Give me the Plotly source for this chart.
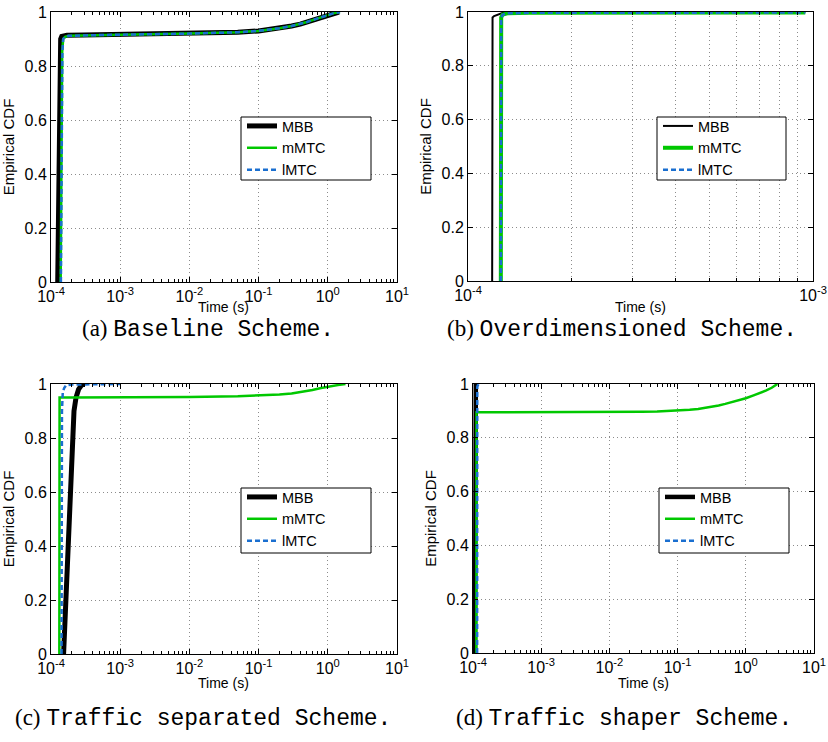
import plotly.graph_objects as go

W, H = 828, 742

series_names = ["MBB", "mMTC", "lMTC"]
colors = {"MBB": "#000000", "mMTC": "#00c800", "lMTC": "#1a6fd0"}

# ---------------- data ----------------
# (a) Baseline
a_mbb_x = [1.25e-4, 1.27e-4, 1.30e-4, 1.34e-4, 1.38e-4, 1.43e-4, 1.5e-4, 1.7e-4, 3e-4, 1e-3, 1e-2, 2e-2, 5e-2, 1e-1, 1.5e-1, 2e-1, 3e-1, 4e-1, 5e-1, 6e-1, 7e-1, 8e-1, 1.0, 1.2, 1.45]
a_mbb_y = [0, 0.2, 0.5, 0.8, 0.9, 0.91, 0.912, 0.914, 0.915, 0.917, 0.92, 0.922, 0.925, 0.93, 0.935, 0.94, 0.948, 0.955, 0.963, 0.97, 0.976, 0.982, 0.99, 0.995, 1.0]
a_mmtc_x = [1.38e-4, 1.4e-4, 1.42e-4, 1.45e-4, 1.5e-4, 1.6e-4, 1.8e-4, 3e-4, 1e-3, 1e-2, 2e-2, 5e-2, 1e-1, 1.5e-1, 2e-1, 3e-1, 4e-1, 5e-1, 6e-1, 7e-1, 8e-1, 1.0, 1.2, 1.5]
a_mmtc_y = [0, 0.3, 0.6, 0.85, 0.9, 0.908, 0.912, 0.914, 0.916, 0.92, 0.922, 0.925, 0.93, 0.935, 0.94, 0.948, 0.955, 0.963, 0.97, 0.976, 0.982, 0.99, 0.995, 1.0]
a_lmtc_x = [1.39e-4, 1.41e-4, 1.43e-4, 1.46e-4, 1.5e-4, 1.6e-4, 1.8e-4, 3e-4, 1e-3, 1e-2, 2e-2, 5e-2, 1e-1, 1.5e-1, 2e-1, 3e-1, 4e-1, 5e-1, 6e-1, 7e-1, 8e-1, 1.0, 1.2, 1.5]
a_lmtc_y = [0, 0.3, 0.6, 0.85, 0.9, 0.908, 0.912, 0.914, 0.916, 0.92, 0.922, 0.925, 0.93, 0.935, 0.94, 0.948, 0.955, 0.963, 0.97, 0.976, 0.982, 0.99, 0.995, 1.0]

# (b) Overdimensioned
b_mbb_x = [1.175e-4, 1.178e-4, 1.19e-4, 1.21e-4, 1.24e-4, 1.28e-4, 9.5e-4]
b_mbb_y = [0, 0.98, 0.985, 0.988, 0.995, 1.0, 1.0]
b_mmtc_x = [1.245e-4, 1.248e-4, 1.26e-4, 1.3e-4, 1.5e-4, 9.5e-4]
b_mmtc_y = [0, 0.98, 0.99, 0.995, 0.997, 0.998]
b_lmtc_x = [1.245e-4, 1.248e-4, 1.26e-4, 1.3e-4, 1.5e-4, 9.5e-4]
b_lmtc_y = [0, 0.98, 0.99, 0.995, 0.997, 0.998]

# (c) Traffic separated
c_mbb_x = [1.52e-4, 1.58e-4, 1.65e-4, 1.73e-4, 1.82e-4, 1.93e-4, 2.05e-4, 2.15e-4, 2.3e-4, 2.5e-4, 2.75e-4, 3.0e-4]
c_mbb_y = [0, 0.1, 0.2, 0.35, 0.5, 0.65, 0.8, 0.9, 0.95, 0.98, 0.995, 1.0]
c_mmtc_x = [1.32e-4, 1.33e-4, 2e-4, 1e-3, 1e-2, 5e-2, 1e-1, 2e-1, 3e-1, 4e-1, 6e-1, 8e-1, 1.0, 1.2, 1.4, 1.8]
c_mmtc_y = [0, 0.95, 0.95, 0.95, 0.952, 0.955, 0.957, 0.961, 0.965, 0.97, 0.978, 0.985, 0.99, 0.993, 0.996, 1.0]
c_lmtc_x = [1.42e-4, 1.44e-4, 1.48e-4, 1.55e-4, 1.65e-4, 2e-4, 1e-3]
c_lmtc_y = [0, 0.9, 0.97, 0.985, 0.995, 0.998, 1.0]

# (d) Traffic shaper
d_mbb_x = [1.07e-4, 1.075e-4, 1.1e-4, 1.15e-4]
d_mbb_y = [0, 0.995, 1.0, 1.0]
d_mmtc_x = [1.12e-4, 1.125e-4, 1.3e-4, 1e-3, 1e-2, 3e-2, 5e-2, 1e-1, 1.5e-1, 2e-1, 3e-1, 4e-1, 5e-1, 7e-1, 1.0, 1.3, 1.7, 2.0, 2.4, 2.9]
d_mmtc_y = [0, 0.895, 0.895, 0.895, 0.896, 0.897, 0.898, 0.901, 0.904, 0.907, 0.914, 0.92, 0.926, 0.936, 0.947, 0.958, 0.968, 0.976, 0.986, 1.0]
d_lmtc_x = [1.15e-4, 1.155e-4, 1.2e-4, 1.3e-4]
d_lmtc_y = [0, 0.99, 1.0, 1.0]

captions = ["(a)", "(b)", "(c)", "(d)"]
caption_texts = ["Baseline Scheme.", "Overdimensioned Scheme.",
                 "Traffic separated Scheme.", "Traffic shaper Scheme."]

y_tickvals = [0, 0.2, 0.4, 0.6, 0.8, 1.0]
y_ticktext = ["0", "0.2", "0.4", "0.6", "0.8", "1"]
x_tickvals_wide = [1e-4, 1e-3, 1e-2, 1e-1, 1e0, 1e1]
x_ticktext_wide = ["10<sup>-4</sup>", "10<sup>-3</sup>", "10<sup>-2</sup>",
                   "10<sup>-1</sup>", "10<sup>0</sup>", "10<sup>1</sup>"]
x_tickvals_narrow = [1e-4, 1e-3]
x_ticktext_narrow = ["10<sup>-4</sup>", "10<sup>-3</sup>"]

# ---------------- layout geometry (pixels) ----------------
boxes = [  # x0, x1, ytop, ybottom
    (51, 397, 12, 282),
    (468, 813, 12, 281),
    (51, 397, 384, 654),
    (473, 814, 384, 653),
]
legend_boxes = [  # x0, x1, ytop, ybottom
    (241, 371, 117, 180),
    (657, 786, 117, 180),
    (241, 371, 488, 553),
    (659, 789, 488, 553),
]
widths = [
    {"MBB": 5, "mMTC": 2.5, "lMTC": 2.5},
    {"MBB": 2, "mMTC": 4, "lMTC": 2.5},
    {"MBB": 5, "mMTC": 2.5, "lMTC": 2.5},
    {"MBB": 4.5, "mMTC": 2.5, "lMTC": 2.5},
]
data = [
    {"MBB": (a_mbb_x, a_mbb_y), "mMTC": (a_mmtc_x, a_mmtc_y), "lMTC": (a_lmtc_x, a_lmtc_y)},
    {"MBB": (b_mbb_x, b_mbb_y), "mMTC": (b_mmtc_x, b_mmtc_y), "lMTC": (b_lmtc_x, b_lmtc_y)},
    {"MBB": (c_mbb_x, c_mbb_y), "mMTC": (c_mmtc_x, c_mmtc_y), "lMTC": (c_lmtc_x, c_lmtc_y)},
    {"MBB": (d_mbb_x, d_mbb_y), "mMTC": (d_mmtc_x, d_mmtc_y), "lMTC": (d_lmtc_x, d_lmtc_y)},
]
caption_pos = [(208, 329), (622, 329), (203, 718), (624, 718)]
xtitle_y = [307, 307, 683, 683]


def px(x):
    return x / W


def py(y):
    return 1 - y / H


fig = go.Figure()
FONT = "Liberation Sans, Arial, sans-serif"
GRID = "#8c8c8c"
GRID_DASH = "1px,3px"

shapes = []
annotations = []
for i in range(4):
    s = "" if i == 0 else str(i + 1)
    leg = "legend" if i == 0 else "legend" + str(i + 1)
    for name in series_names:
        xs, ys = data[i][name]
        line = dict(color=colors[name], width=widths[i][name])
        if name == "lMTC":
            line["dash"] = "5px,3px"
        fig.add_trace(go.Scatter(
            x=xs, y=ys, mode="lines", name=name, line=line,
            xaxis="x" + s, yaxis="y" + s, legend=leg, showlegend=True,
        ))
    x0, x1, yt, yb = boxes[i]
    narrow = (i == 1)
    if narrow:
        tv, tt = x_tickvals_narrow, x_ticktext_narrow
        xr = [-4, -3]
        minor_vals = [k * 1e-4 for k in range(2, 10)]
        minor_grid = True
    else:
        tv, tt = x_tickvals_wide, x_ticktext_wide
        xr = [-4, 1]
        minor_vals = [k * 10.0 ** e for e in range(-4, 1) for k in range(2, 10)]
        minor_grid = False
    xa = dict(
        type="log", range=xr, domain=[px(x0), px(x1)], anchor="y" + s,
        tickvals=tv, ticktext=tt, ticks="inside", ticklen=5, tickcolor="black",
        showline=True, linecolor="black", linewidth=1, mirror="ticks",
        showgrid=True, gridcolor=GRID, griddash=GRID_DASH, gridwidth=1,
        minor=dict(tickvals=minor_vals, ticks="inside", ticklen=3, tickcolor="black",
                   showgrid=minor_grid, gridcolor=GRID, griddash=GRID_DASH, gridwidth=1),
        tickfont=dict(family=FONT, size=16, color="black"),
        zeroline=False, fixedrange=True, automargin=False,
    )
    ya = dict(
        range=[0, 1], domain=[py(yb), py(yt)], anchor="x" + s,
        tickvals=y_tickvals, ticktext=y_ticktext, ticks="inside", ticklen=5,
        tickcolor="black", showline=True, linecolor="black", linewidth=1,
        mirror="ticks", showgrid=True, gridcolor=GRID, griddash=GRID_DASH, gridwidth=1,
        tickfont=dict(family=FONT, size=16, color="black"),
        title=dict(text="Empirical CDF", font=dict(family=FONT, size=15, color="black"), standoff=6),
        zeroline=False, fixedrange=True, automargin=False,
    )
    fig.update_layout(**{"xaxis" + s: xa, "yaxis" + s: ya})

    # x title
    annotations.append(dict(
        text="Time (s)", x=px((x0 + x1) / 2), y=py(xtitle_y[i]), xref="paper", yref="paper",
        showarrow=False, xanchor="center", yanchor="middle",
        font=dict(family=FONT, size=14, color="black"),
    ))
    # caption
    cx, cy = caption_pos[i]
    annotations.append(dict(
        text=captions[i] + " <span style='font-family:Liberation Mono, DejaVu Sans Mono, monospace'>"
        + caption_texts[i] + "</span>",
        x=px(cx), y=py(cy), xref="paper", yref="paper", showarrow=False,
        xanchor="center", yanchor="middle",
        font=dict(family="Liberation Serif, DejaVu Serif, serif", size=23, color="black"),
    ))
    # legend box
    lx0, lx1, lyt, lyb = legend_boxes[i]
    shapes.append(dict(
        type="rect", xref="paper", yref="paper", x0=px(lx0), x1=px(lx1),
        y0=py(lyb), y1=py(lyt), line=dict(color="black", width=1),
        fillcolor="white", layer="above",
    ))
    fig.update_layout(**{leg: dict(
        x=px(lx0 + 1), y=py(lyt - 7), xanchor="left", yanchor="top",
        bgcolor="rgba(0,0,0,0)", borderwidth=0,
        font=dict(family=FONT, size=14.5, color="black"),
        tracegroupgap=0, itemwidth=30,
    )})

fig.update_layout(
    width=W, height=H, margin=dict(l=0, r=0, t=0, b=0, autoexpand=False),
    paper_bgcolor="white", plot_bgcolor="white",
    shapes=shapes, annotations=annotations, showlegend=True,
)

fig.write_html(
    "out.html",
    config={"displayModeBar": False},
    post_script="document.body.style.margin='0';document.body.style.overflow='hidden';",
)
